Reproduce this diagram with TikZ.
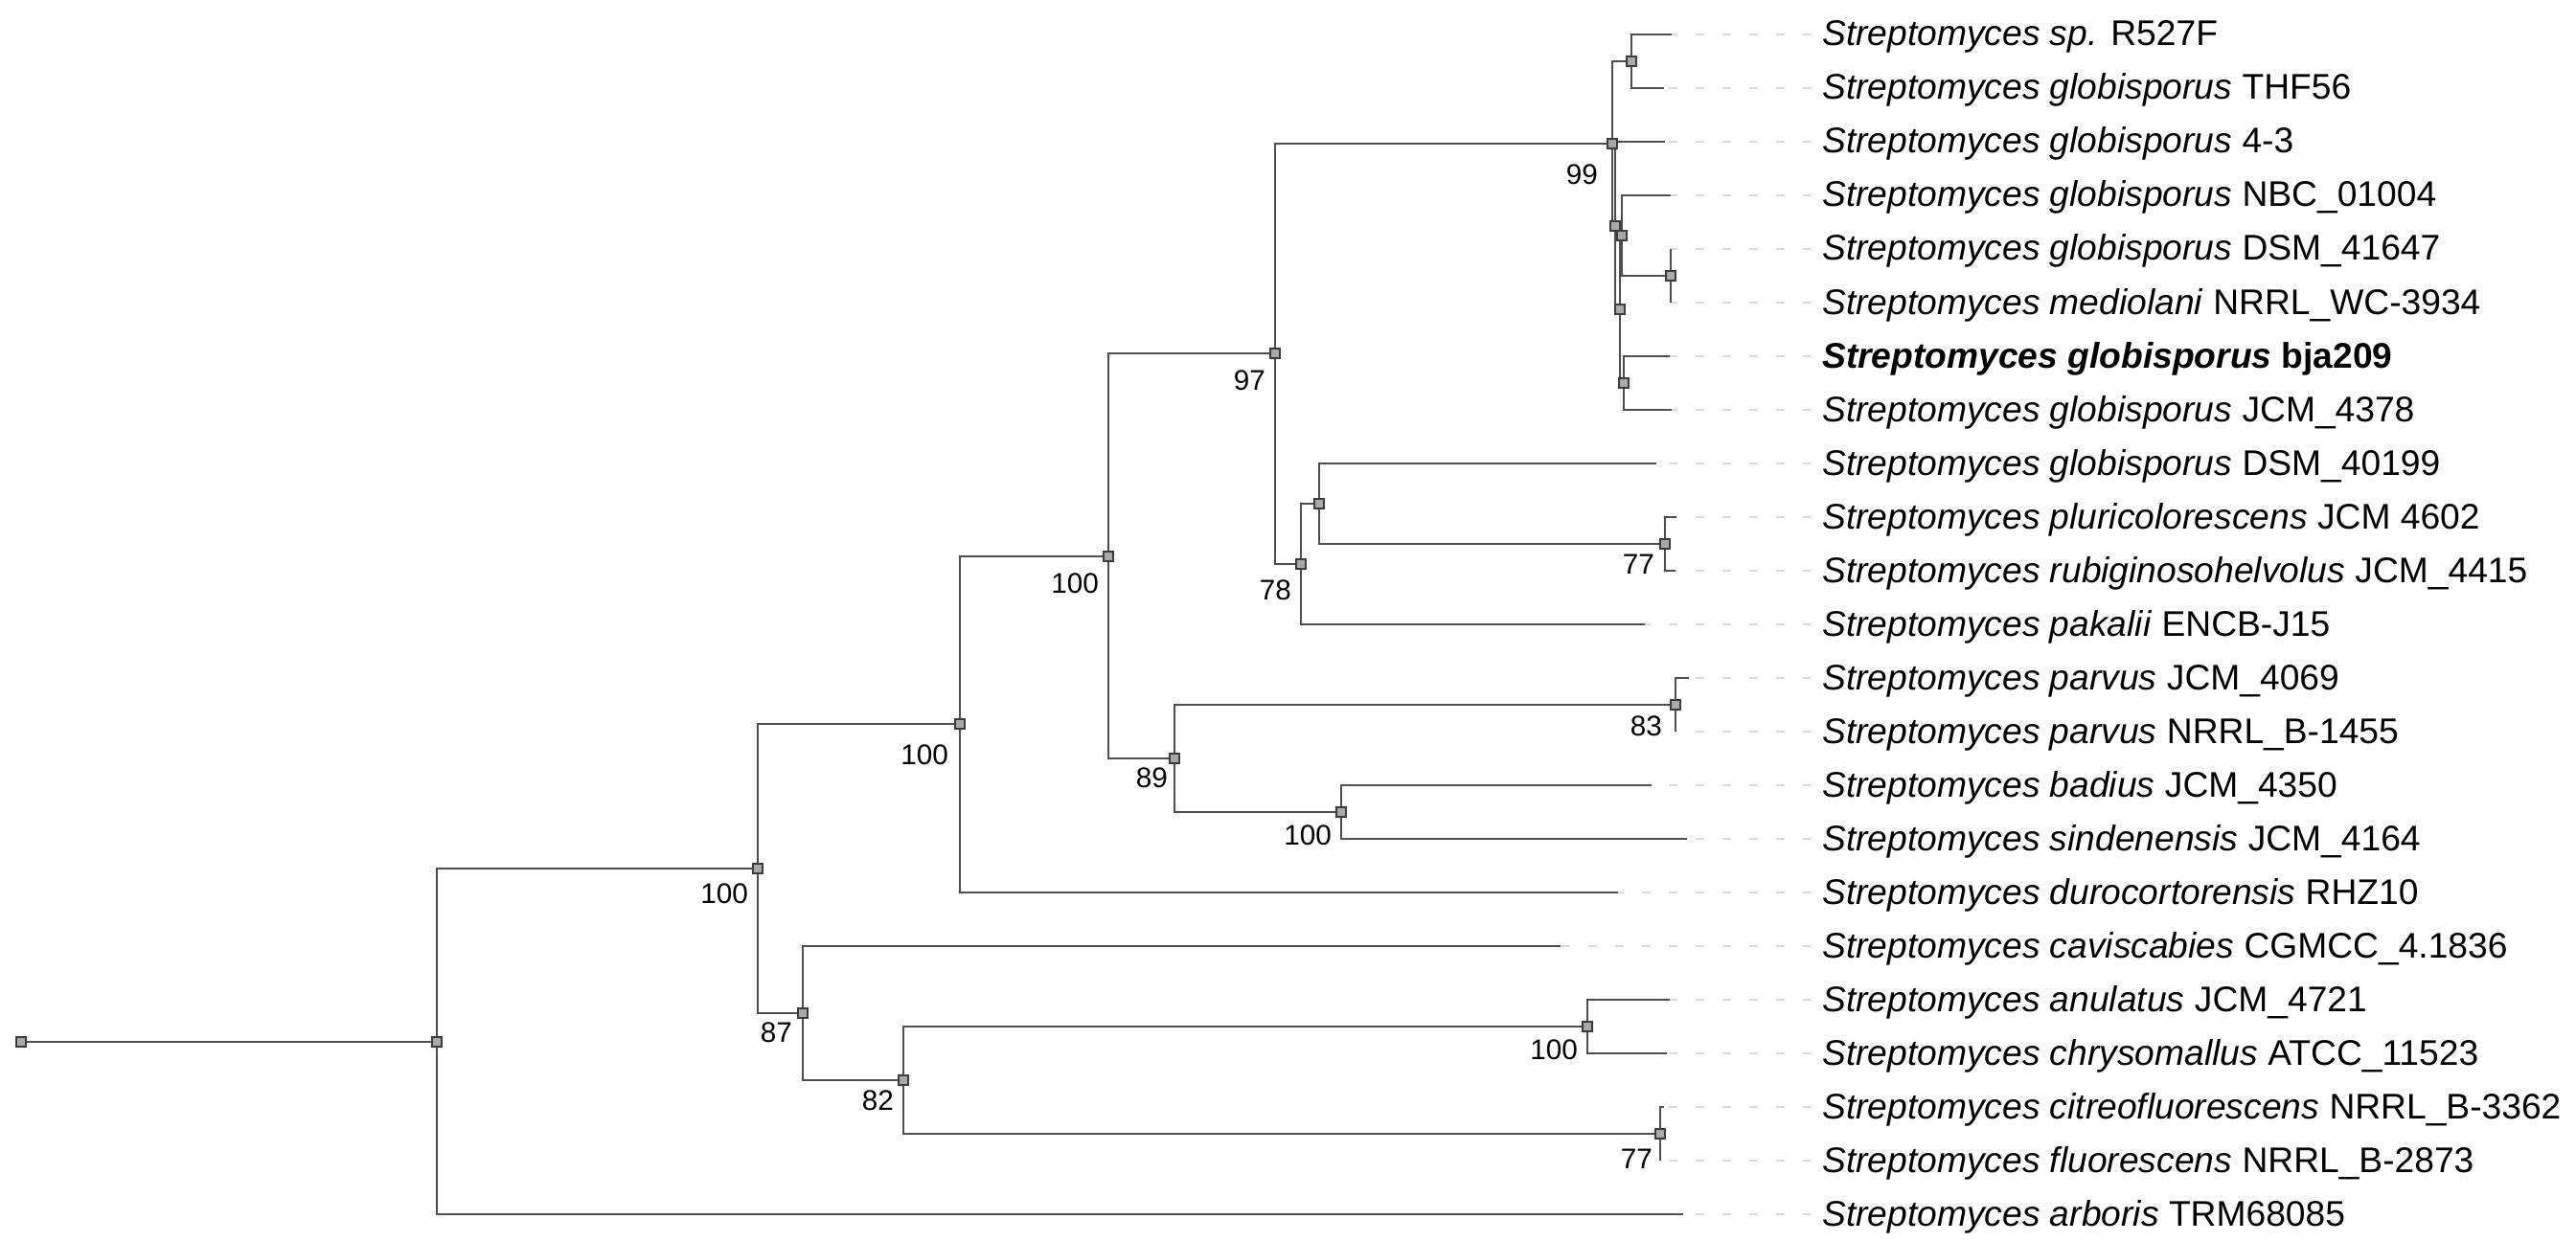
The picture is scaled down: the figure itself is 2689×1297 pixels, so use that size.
\documentclass[tikz,border=0pt]{standalone}
\usepackage{fontspec}
\setmainfont{Liberation Sans}
\definecolor{branch}{HTML}{4E4E4E}
\definecolor{dashc}{HTML}{DADADA}
\definecolor{sqfill}{HTML}{A8A8A8}
\definecolor{sqdraw}{HTML}{3C3C3C}
\tikzset{
  br/.style={draw=branch, line width=2.7pt},
  dashline/.style={draw=dashc, line width=2.6pt, dash pattern=on 9pt off 19pt},
  nodesq/.style={draw=sqdraw, fill=sqfill, line width=1.6pt, minimum size=10pt, inner sep=0pt, rectangle},
  leaflab/.style={anchor=base west, inner sep=0pt, font=\fontsize{37.2pt}{44pt}\selectfont},
  supp/.style={anchor=north east, inner sep=0pt, font=\fontsize{29.7pt}{35pt}\selectfont},
}
\newcommand\leafrow[3]{%
  \pgfmathsetmacro\rowy{36+56*#1}%
  \coordinate (t#1) at (#2,\rowy);%
  \coordinate (e#1) at (1892,\rowy);%
  \node[leaflab] (lab#1) at (1902,\rowy+12) {#3};%
  \pgfmathsetmacro\ph{mod(#2-1742+2800,28)}%
  \draw[dashline, dash phase=\ph pt] (t#1) -- (e#1);%
}
\begin{document}
\begin{tikzpicture}[x=1pt,y=-1pt]
\fill[white] (0,0) rectangle (2689,1297);
\useasboundingbox (0,0) rectangle (2689,1297);
% leaves
\leafrow{0}{1745}{\textit{Streptomyces sp.} R527F}
\leafrow{1}{1737}{\textit{Streptomyces globisporus} THF56}
\leafrow{2}{1738}{\textit{Streptomyces globisporus} 4-3}
\leafrow{3}{1744}{\textit{Streptomyces globisporus} NBC\_01004}
\leafrow{4}{1744}{\textit{Streptomyces globisporus} DSM\_41647}
\leafrow{5}{1744}{\textit{Streptomyces mediolani} NRRL\_WC-3934}
\leafrow{6}{1743}{\textbf{\textit{Streptomyces globisporus} bja209}}
\leafrow{7}{1745}{\textit{Streptomyces globisporus} JCM\_4378}
\leafrow{8}{1729}{\textit{Streptomyces globisporus} DSM\_40199}
\leafrow{9}{1750}{\textit{Streptomyces pluricolorescens} JCM 4602}
\leafrow{10}{1749}{\textit{Streptomyces rubiginosohelvolus} JCM\_4415}
\leafrow{11}{1717}{\textit{Streptomyces pakalii} ENCB-J15}
\leafrow{12}{1763}{\textit{Streptomyces parvus} JCM\_4069}
\leafrow{13}{1749}{\textit{Streptomyces parvus} NRRL\_B-1455}
\leafrow{14}{1724}{\textit{Streptomyces badius} JCM\_4350}
\leafrow{15}{1761}{\textit{Streptomyces sindenensis} JCM\_4164}
\leafrow{16}{1689}{\textit{Streptomyces durocortorensis} RHZ10}
\leafrow{17}{1629}{\textit{Streptomyces caviscabies} CGMCC\_4.1836}
\leafrow{18}{1743}{\textit{Streptomyces anulatus} JCM\_4721}
\leafrow{19}{1740}{\textit{Streptomyces chrysomallus} ATCC\_11523}
\leafrow{20}{1737}{\textit{Streptomyces citreofluorescens} NRRL\_B-3362}
\leafrow{21}{1733}{\textit{Streptomyces fluorescens} NRRL\_B-2873}
\leafrow{22}{1757}{\textit{Streptomyces arboris} TRM68085}
% internal nodes
\coordinate (R) at (22,1088);
\coordinate (N1) at (456,1088);
\coordinate (A) at (791,907);
\coordinate (B) at (1002,756);
\coordinate (C) at (838,1058);
\coordinate (D) at (1157,581);
\coordinate (E) at (1331,369);
\coordinate (F) at (1226,792);
\coordinate (G) at (1683,150);
\coordinate (H) at (1358,589);
\coordinate (H2) at (1377,526);
\coordinate (I) at (1703,64);
\coordinate (J) at (1686,236);
\coordinate (K) at (1693,246);
\coordinate (L) at (1744,288);
\coordinate (M) at (1691,323);
\coordinate (N) at (1695,400);
\coordinate (P) at (1738,568);
\coordinate (Q) at (1749,736);
\coordinate (S) at (1400,848);
\coordinate (V) at (1657,1072);
\coordinate (W) at (1733,1184);
\coordinate (X) at (943,1128);
% branches
\draw[br] (R) -- (N1);
\draw[br] (N1) |- (A);  \draw[br] (N1) |- (t22);
\draw[br] (A) |- (B);   \draw[br] (A) |- (C);
\draw[br] (B) |- (D);   \draw[br] (B) |- (t16);
\draw[br] (D) |- (E);   \draw[br] (D) |- (F);
\draw[br] (E) |- (G);   \draw[br] (E) |- (H);
\draw[br] (G) |- (I);   \draw[br] (G) |- (J);
\draw[br] (I) |- (t0);  \draw[br] (I) |- (t1);
\draw[br] (J) |- (t2);  \draw[br] (J) |- (M);
\draw[br] (M) |- (K);   \draw[br] (M) |- (N);
\draw[br] (K) |- (t3);  \draw[br] (K) |- (L);
\draw[br] (L) |- (t4);  \draw[br] (L) |- (t5);
\draw[br] (N) |- (t6);  \draw[br] (N) |- (t7);
\draw[br] (H) |- (H2);  \draw[br] (H) |- (t11);
\draw[br] (H2) |- (t8); \draw[br] (H2) |- (P);
\draw[br] (P) |- (t9);  \draw[br] (P) |- (t10);
\draw[br] (F) |- (Q);   \draw[br] (F) |- (S);
\draw[br] (Q) |- (t12); \draw[br] (Q) |- (t13);
\draw[br] (S) |- (t14); \draw[br] (S) |- (t15);
\draw[br] (C) |- (t17); \draw[br] (C) |- (X);
\draw[br] (X) |- (V);   \draw[br] (X) |- (W);
\draw[br] (V) |- (t18); \draw[br] (V) |- (t19);
\draw[br] (W) |- (t20); \draw[br] (W) |- (t21);
% node markers
\foreach \n in {R,N1,A,B,C,D,E,F,G,H,H2,I,J,K,L,M,N,P,Q,S,V,W,X}
  \node[nodesq] (sq\n) at (\n) {};
% support values
\node[supp] (sA) at ([xshift=-10pt,yshift=-16pt]A) {100};
\node[supp] (sB) at ([xshift=-12pt,yshift=-22pt]B) {100};
\node[supp] (sC) at ([xshift=-11pt,yshift=-10pt]C) {87};
\node[supp] (sD) at ([xshift=-10pt,yshift=-18pt]D) {100};
\node[supp] (sE) at ([xshift=-10pt,yshift=-18pt]E) {97};
\node[supp] (sF) at ([xshift=-7pt,yshift=-10pt]F) {89};
\node[supp] (sG) at ([xshift=-15pt,yshift=-22pt]G) {99};
\node[supp] (sH) at ([xshift=-10pt,yshift=-17pt]H) {78};
\node[supp] (sP) at ([xshift=-11pt,yshift=-11pt]P) {77};
\node[supp] (sQ) at ([xshift=-14pt,yshift=-12pt]Q) {83};
\node[supp] (sS) at ([xshift=-10pt,yshift=-14pt]S) {100};
\node[supp] (sV) at ([xshift=-10pt,yshift=-14pt]V) {100};
\node[supp] (sW) at ([xshift=-8pt,yshift=-16pt]W) {77};
\node[supp] (sX) at ([xshift=-10pt,yshift=-11pt]X) {82};
\end{tikzpicture}
\end{document}
